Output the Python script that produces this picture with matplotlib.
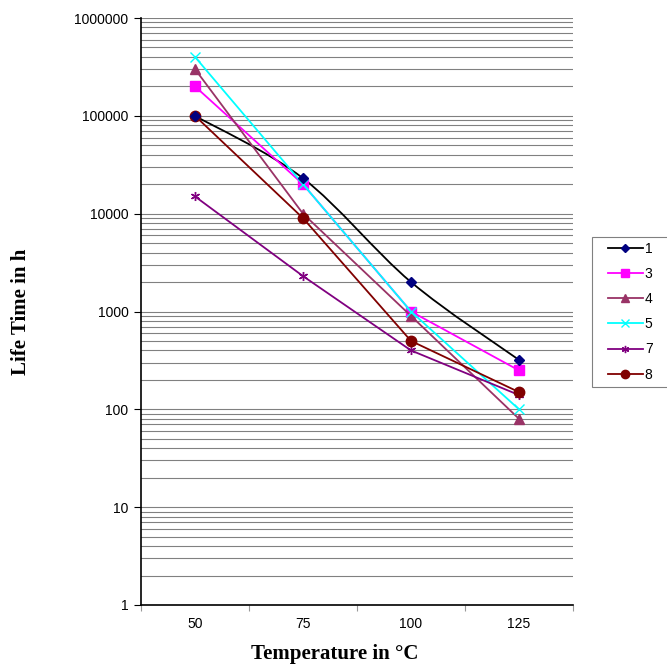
import matplotlib
matplotlib.use("Agg")
import matplotlib.pyplot as plt
import numpy as np
from matplotlib.path import Path
from matplotlib.patches import PathPatch, Rectangle
from matplotlib.lines import Line2D
from matplotlib.ticker import LogLocator, FixedLocator, NullFormatter, FuncFormatter

categories = ["50", "75", "100", "125"]
s1 = [100000, 23000, 2000, 320]
s3 = [200000, 20000, 1000, 250]
s4 = [300000, 10000, 900, 80]
s5 = [400000, 20000, 1000, 100]
s7 = [15000, 2300, 400, 140]
s8 = [100000, 9000, 500, 150]
labels = ["1", "3", "4", "5", "7", "8"]

W, H = 667, 665
fig = plt.figure(figsize=(W / 100, H / 100), dpi=100)
ax = fig.add_axes([141 / W, 1 - 605 / H, (573 - 141) / W, (605 - 18) / H])

x = np.arange(len(categories))
lw = 1.3

# series 1: smoothed line (Bezier in x / log10(y) space)
py = np.log10(np.array(s1, dtype=float))
px = x.astype(float)
verts = [(px[0], 10 ** py[0])]
codes = [Path.MOVETO]
n = len(px)
for i in range(n - 1):
    p0 = (px[max(i - 1, 0)], py[max(i - 1, 0)])
    p1 = (px[i], py[i])
    p2 = (px[i + 1], py[i + 1])
    p3 = (px[min(i + 2, n - 1)], py[min(i + 2, n - 1)])
    c1 = (p1[0] + (p2[0] - p0[0]) / 6, p1[1] + (p2[1] - p0[1]) / 6)
    c2 = (p2[0] - (p3[0] - p1[0]) / 6, p2[1] - (p3[1] - p1[1]) / 6)
    for c in (c1, c2, p2):
        verts.append((c[0], 10 ** c[1]))
        codes.append(Path.CURVE4)

ax.set_yscale("log")
ax.add_patch(PathPatch(Path(verts, codes), fill=False, edgecolor="black", lw=lw, zorder=3))
ax.plot(x, s1, ls="none", marker="D", ms=5.5, mfc="#000080", mec="#000080", zorder=4)

styles = [
    (s3, "#FF00FF", "s", 7.5, "#FF00FF"),
    (s4, "#993366", "^", 7.5, "#993366"),
    (s5, "#00FFFF", "x", 7, "#00FFFF"),
    (s7, "#800080", (6, 2, 0), 6.5, "#800080"),
    (s8, "#800000", "o", 7.5, "#800000"),
]
for vals, col, mk, ms, mc in styles:
    ax.plot(x, vals, color=col, lw=lw, marker=mk, ms=ms, mfc=mc, mec=mc, mew=1.0, zorder=3)

ax.set_xlim(-0.5, 3.5)
ax.set_ylim(1, 1000000)

ax.yaxis.set_major_locator(FixedLocator([1, 10, 100, 1000, 10000, 100000, 1000000]))
ax.yaxis.set_minor_locator(LogLocator(base=10, subs=np.arange(2, 10), numticks=20))
ax.yaxis.set_major_formatter(FuncFormatter(lambda v, p: f"{int(round(v))}"))
ax.yaxis.set_minor_formatter(NullFormatter())
ax.grid(True, which="both", axis="y", color="#808080", lw=0.8, zorder=0)
ax.tick_params(axis="y", which="major", direction="out", length=5, width=0.8, labelsize=10, pad=4)
ax.tick_params(axis="y", which="minor", length=0)

ax.xaxis.set_major_locator(FixedLocator([-0.5, 0.5, 1.5, 2.5, 3.5]))
ax.xaxis.set_major_formatter(NullFormatter())
ax.xaxis.set_minor_locator(FixedLocator(list(x)))
ax.set_xticklabels(categories, minor=True)
ax.tick_params(axis="x", which="major", direction="out", length=4, width=0.8, color="#999999")
ax.tick_params(axis="x", which="minor", length=0, labelsize=10, pad=9)

for lab in ax.get_xticklabels(minor=True) + ax.get_yticklabels():
    lab.set_fontfamily("Liberation Sans")

ax.spines["top"].set_visible(False)
ax.spines["right"].set_visible(False)
ax.spines["left"].set_linewidth(1.2)
ax.spines["bottom"].set_linewidth(1.2)
ax.set_axisbelow(True)

ax.set_xlabel("Temperature in °C", fontfamily="Liberation Serif", fontweight="bold", fontsize=15, labelpad=9)
ax.xaxis.label.set_x((335 - 141) / 432)
ax.set_ylabel("Life Time in h", fontfamily="Liberation Serif", fontweight="bold", fontsize=15, labelpad=31)

# legend frame
fig.patches.append(Rectangle((592 / W, 1 - 387 / H), (668 - 592) / W, (387 - 237) / H,
                             transform=fig.transFigure, fill=True, facecolor="white",
                             edgecolor="#808080", lw=0.8, zorder=1))

handles = [Line2D([], [], color="black", lw=lw, marker="D", ms=4, mfc="#000080", mec="#000080")]
for vals, col, mk, ms, mc in styles:
    handles.append(Line2D([], [], color=col, lw=lw, marker=mk, ms=ms * 0.8, mfc=mc, mec=mc))
leg = fig.legend(handles, labels, loc="upper left", bbox_to_anchor=(608 / W, 1 - 242 / H),
                 frameon=False, handlelength=2.5, labelspacing=0.8, borderpad=0,
                 handletextpad=0.15, borderaxespad=0,
                 prop={"family": "Liberation Sans", "size": 10})
leg.set_zorder(2)

fig.savefig("out.png", dpi=100)
